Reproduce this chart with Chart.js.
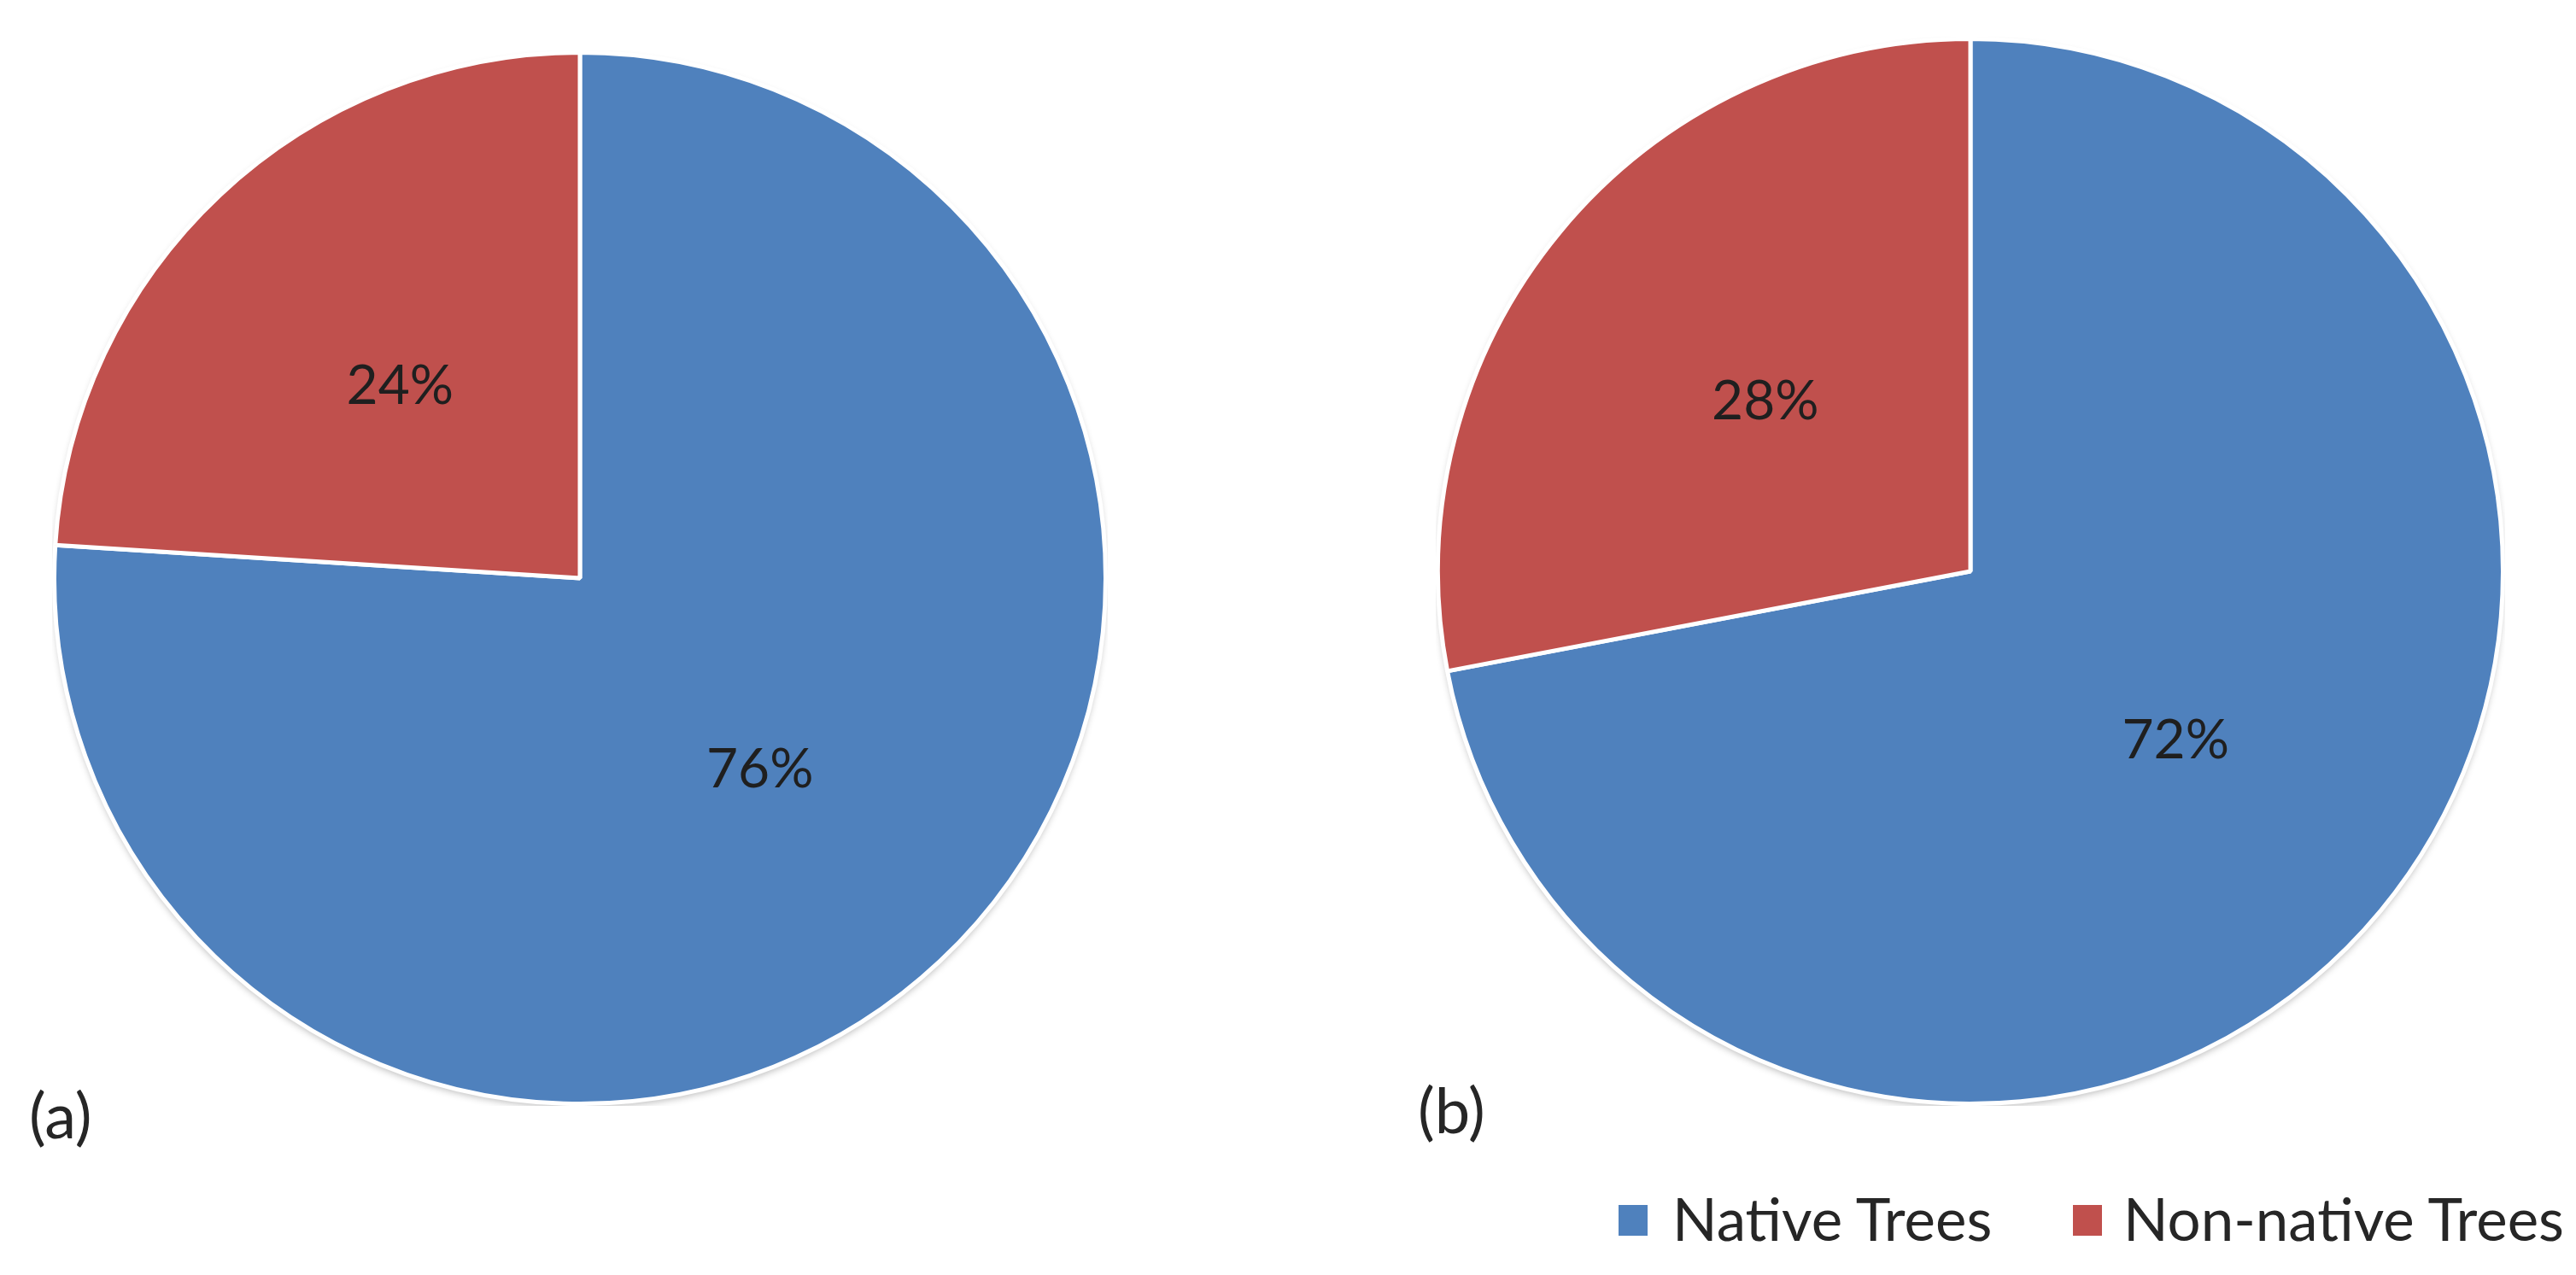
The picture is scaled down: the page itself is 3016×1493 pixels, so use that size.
<!DOCTYPE html>
<html>
<head>
<meta charset="utf-8">
<script src="https://cdn.jsdelivr.net/npm/chart.js@4.4.1/dist/chart.umd.min.js"></script>
<style>
    body { margin: 0; width: 3016px; height: 1493px; background: #fff; position: relative; overflow: hidden; font-family: Lato, "Open Sans", sans-serif; color: #262626; }
    .pie { position: absolute; }
    .panel-label { position: absolute; font-size: 74px; line-height: 1; }
    .legend-box { position: absolute; width: 34px; height: 36px; top: 1411px; }
    .legend-text { position: absolute; top: 1392px; font-size: 69px; line-height: 1; white-space: nowrap; }
</style>
</head>
<body>

<div class="pie" style="left:61px; top:59px; width:1236px; height:1236px;"><canvas id="chart-a"></canvas></div>
<div class="pie" style="left:1681px; top:43px; width:1252px; height:1252px;"><canvas id="chart-b"></canvas></div>

<div class="panel-label" id="label-a" style="left:34px; top:1268px;"></div>
<div class="panel-label" id="label-b" style="left:1660px; top:1262px;"></div>

<div id="legend"></div>

<script>
// chart data
const categories = ["Native Trees", "Non-native Trees"];
const valuesA = [76, 24];
const valuesB = [72, 28];
const panelLabels = ["(a)", "(b)"];
const sliceColors = ["#4F81BD", "#C0504D"];

// soft shadow under the pie, like the office chart
const pieShadow = {
    id: 'pieShadow',
    beforeDatasetsDraw(chart) {
        const arc = chart.getDatasetMeta(0).data[0];
        if (!arc) return;
        const ctx = chart.ctx;
        ctx.save();
        ctx.shadowColor = 'rgba(0, 0, 0, 0.28)';
        ctx.shadowBlur = 8;
        ctx.shadowOffsetY = 4;
        ctx.fillStyle = '#ffffff';
        ctx.beginPath();
        ctx.arc(arc.x, arc.y, arc.outerRadius, 0, Math.PI * 2);
        ctx.fill();
        ctx.restore();
    }
};

// percent labels in the middle of each slice
const percentLabels = {
    id: 'percentLabels',
    afterDatasetsDraw(chart) {
        const ctx = chart.ctx;
        const meta = chart.getDatasetMeta(0);
        const data = chart.data.datasets[0].data;
        ctx.save();
        ctx.font = '64px Lato, "Open Sans", sans-serif';
        ctx.fillStyle = '#1f1f1f';
        ctx.textAlign = 'center';
        ctx.textBaseline = 'middle';
        meta.data.forEach((arc, i) => {
            const pos = arc.tooltipPosition();
            ctx.fillText(data[i] + '%', pos.x, pos.y);
        });
        ctx.restore();
    }
};

function makePie(canvasId, values) {
    return new Chart(document.getElementById(canvasId), {
        type: 'pie',
        data: {
            labels: categories,
            datasets: [{
                data: values,
                backgroundColor: sliceColors,
                borderColor: '#ffffff',
                borderWidth: 5
            }]
        },
        options: {
            responsive: true,
            maintainAspectRatio: false,
            animation: { duration: 0 },
            layout: { padding: 0 },
            plugins: {
                legend: { display: false },
                tooltip: { enabled: false }
            }
        },
        plugins: [pieShadow, percentLabels]
    });
}

let chartA = makePie("chart-a", valuesA);
let chartB = makePie("chart-b", valuesB);

document.getElementById("label-a").textContent = panelLabels[0];
document.getElementById("label-b").textContent = panelLabels[1];

// legend (box and text positions per entry)
const legend = document.getElementById("legend");
const boxLeft = [1895, 2427];
const textLeft = [1958, 2486];
categories.forEach((name, i) => {
    const box = document.createElement("div");
    box.className = "legend-box";
    box.style.left = boxLeft[i] + "px";
    box.style.background = sliceColors[i];
    const text = document.createElement("div");
    text.className = "legend-text";
    text.style.left = textLeft[i] + "px";
    text.textContent = name;
    legend.appendChild(box);
    legend.appendChild(text);
});
</script>
</body>
</html>
